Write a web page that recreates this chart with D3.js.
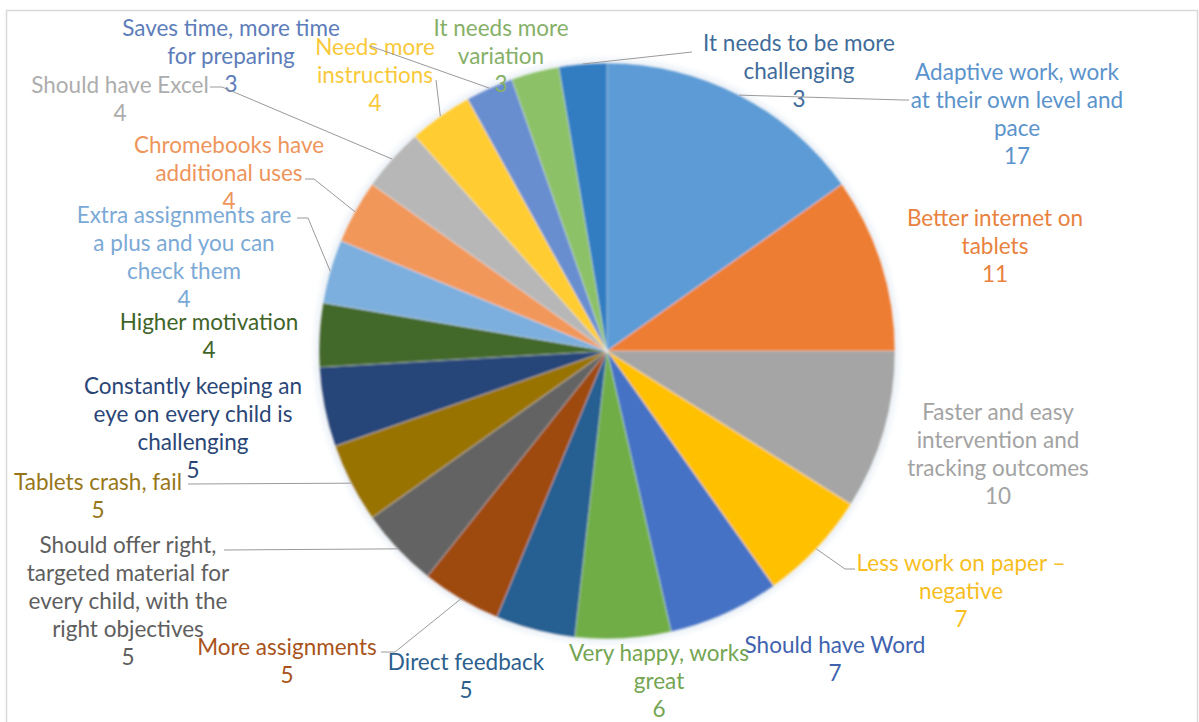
<!DOCTYPE html>
<html>
<head>
<meta charset="utf-8">
<script src="https://cdn.jsdelivr.net/npm/d3@7/dist/d3.min.js"></script>
<style>
  html, body { margin: 0; padding: 0; background: #fff; }
  svg { display: block; }
  .lbl { font-family: Lato, "Open Sans", sans-serif; font-size: 22.5px; }
</style>
</head>
<body>
<svg id="chart" width="1199" height="722"></svg>
<script>
// Survey responses, clockwise from twelve o'clock
const categories = [
  "Adaptive work, work\nat their own level and\npace",
  "Better internet on\ntablets",
  "Faster and easy\nintervention and\ntracking outcomes",
  "Less work on paper –\nnegative",
  "Should have Word",
  "Very happy, works\ngreat",
  "Direct feedback",
  "More assignments",
  "Should offer right,\ntargeted material for\nevery child, with the\nright objectives",
  "Tablets crash, fail",
  "Constantly keeping an\neye on every child is\nchallenging",
  "Higher motivation",
  "Extra assignments are\na plus and you can\ncheck them",
  "Chromebooks have\nadditional uses",
  "Should have Excel",
  "Needs more\ninstructions",
  "Saves time, more time\nfor preparing",
  "It needs more\nvariation",
  "It needs to be more\nchallenging"
];
const values = [17, 11, 10, 7, 7, 6, 5, 5, 5, 5, 5, 4, 4, 4, 4, 4, 3, 3, 3];

const sliceColors = [
  "#5B9BD5", "#ED7D31", "#A5A5A5", "#FFC000", "#4472C4", "#70AD47",
  "#255E91", "#9E480E", "#636363", "#997300", "#264478", "#43682B",
  "#7CAFDD", "#F1975A", "#B7B7B7", "#FFCD33", "#698ED0", "#8CC168",
  "#327DC2"
];
const labelColors = [
  "#5B93CC", "#E8823E", "#A3A3A3", "#F7BE1E", "#3F63AE", "#74A552",
  "#2C5F8E", "#A9531B", "#5E5E5E", "#977619", "#2A4677", "#3F6429",
  "#7BA9D6", "#EE955C", "#ADADAD", "#F8C93A", "#5D7DBA", "#86B067",
  "#3F6C9A"
];

// Label placement: centre x, first line y, leader waypoints after the slice edge
const labelLayout = [
  { x: 1017, y: 72,  leader: [[903, 100], [909, 100]] },
  { x: 995,  y: 218, leader: null },
  { x: 998,  y: 412, leader: null },
  { x: 961,  y: 563, leader: [[845, 569], [855, 569]] },
  { x: 835,  y: 645, leader: null },
  { x: 659,  y: 653, leader: null },
  { x: 466,  y: 662, leader: null },
  { x: 287,  y: 647, leader: [[395, 652], [381, 652]] },
  { x: 128,  y: 545, leader: [[224, 550]] },
  { x: 98,   y: 482, leader: [[188, 484]] },
  { x: 193,  y: 386, leader: null },
  { x: 209,  y: 322, leader: null },
  { x: 184,  y: 215, leader: [[308, 218], [297, 218]] },
  { x: 229,  y: 145, leader: [[314, 179], [305, 179]] },
  { x: 120,  y: 85,  leader: [[222, 87], [210, 87]] },
  { x: 375,  y: 47,  leader: [[436, 80]] },
  { x: 231,  y: 28,  leader: [[370, 46]] },
  { x: 501,  y: 28,  leader: null },
  { x: 799,  y: 43,  leader: [[692, 52]] }
];

const W = 1199, H = 722;
const cx = 607, cy = 351, R = 288;
const lineStep = 28;

const rows = categories.map((c, i) => ({ name: c, value: values[i], i }));

const svg = d3.select("#chart");

// chart area frame
svg.append("rect")
  .attr("x", 6.5).attr("y", 10.5)
  .attr("width", 1191).attr("height", 730)
  .attr("fill", "#fff")
  .attr("stroke", "#d9d9d9").attr("stroke-width", 1.5);

const defs = svg.append("defs");
const soft = defs.append("filter").attr("id", "soft")
  .attr("x", "-5%").attr("y", "-5%").attr("width", "110%").attr("height", "110%");
soft.append("feGaussianBlur").attr("stdDeviation", 0.9);

const glow = defs.append("filter").attr("id", "glow")
  .attr("x", "-10%").attr("y", "-10%").attr("width", "120%").attr("height", "120%");
glow.append("feGaussianBlur").attr("stdDeviation", 3);

const pie = d3.pie().value(d => d.value).sort(null);
const arcs = pie(rows);
const arc = d3.arc().innerRadius(0).outerRadius(R);
const rim = d3.arc().innerRadius(R).outerRadius(R);

const g = svg.append("g").attr("transform", `translate(${cx},${cy})`);

// soft halo round the pie
g.append("circle").attr("r", R + 1)
  .attr("fill", "none").attr("stroke", "#e4ebf3").attr("stroke-width", 5)
  .attr("filter", "url(#glow)");

g.append("g").attr("filter", "url(#soft)")
  .selectAll("path")
  .data(arcs)
  .join("path")
  .attr("d", arc)
  .attr("fill", d => sliceColors[d.data.i])
  .attr("stroke", "rgba(255,255,255,0.45)")
  .attr("stroke-width", 0.7);

// data labels: category lines followed by the value
const labels = svg.append("g");
arcs.forEach(d => {
  const L = labelLayout[d.data.i];
  const lines = d.data.name.split("\n").concat([String(d.data.value)]);
  const t = labels.append("text")
    .attr("class", "lbl")
    .attr("text-anchor", "middle")
    .attr("fill", labelColors[d.data.i]);
  lines.forEach((s, k) => {
    t.append("tspan")
      .attr("x", L.x)
      .attr("y", L.y + k * lineStep + 7.5)
      .text(s);
  });
});

// leader lines from the slice edge to their labels
const line = d3.line();
arcs.forEach(d => {
  const L = labelLayout[d.data.i];
  if (!L.leader) return;
  const [sx, sy] = rim.centroid(d);
  const pts = [[cx + sx, cy + sy]].concat(L.leader);
  svg.append("path")
    .attr("d", line(pts))
    .attr("fill", "none")
    .attr("stroke", "#9a9a9a")
    .attr("stroke-width", 1);
});
</script>
</body>
</html>
